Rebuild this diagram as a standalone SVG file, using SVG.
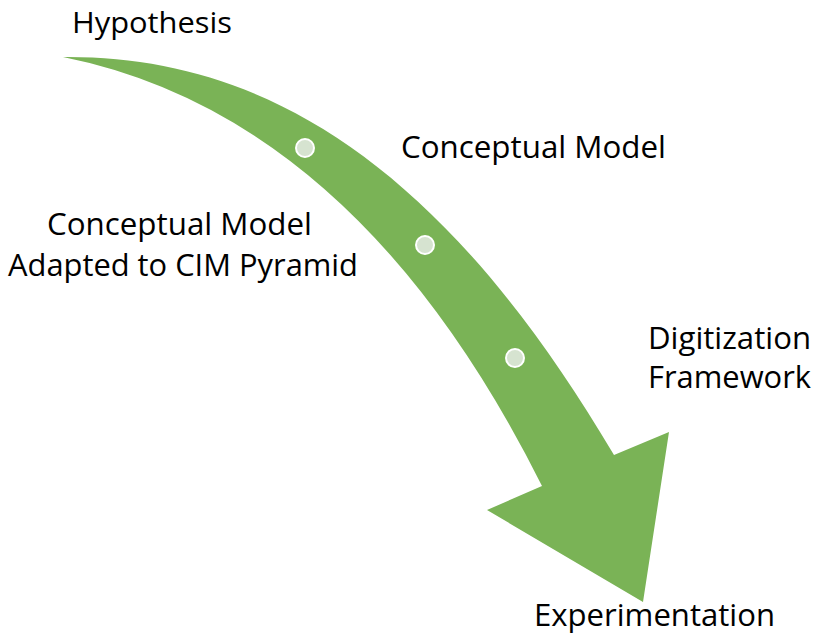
<svg xmlns="http://www.w3.org/2000/svg" width="816" height="635" viewBox="0 0 816 635">
<style>
.lbl{font-family:"Open Sans","Liberation Sans",sans-serif;font-size:31.5px;fill:#000}
.dot{fill:#d6e3d0;stroke:#fff;stroke-width:2}
</style>
<rect width="816" height="635" fill="#fff"/>
<g id="connectors">
<path id="arrow" fill="#7ab356" d="M63,57 C260,55 440,160 614,455 L669,432 L643,602 L487,510 L542,486 Q357,116 63,57 Z"/>
</g>
<g id="dot1"><circle class="dot" cx="305" cy="148" r="9"/></g>
<g id="dot2"><circle class="dot" cx="425" cy="245" r="9"/></g>
<g id="dot3"><circle class="dot" cx="515" cy="358" r="9"/></g>
<g id="n-hypothesis"><text class="lbl" x="72" y="33" style="font-size:30px" textLength="160" lengthAdjust="spacingAndGlyphs">Hypothesis</text></g>
<g id="n-conceptual"><text class="lbl" x="401" y="158" textLength="265" lengthAdjust="spacingAndGlyphs">Conceptual Model</text></g>
<g id="n-adapted">
<text class="lbl" x="47" y="235" textLength="265" lengthAdjust="spacingAndGlyphs">Conceptual Model</text>
<text class="lbl" x="8" y="276" textLength="350" lengthAdjust="spacingAndGlyphs">Adapted to CIM Pyramid</text>
</g>
<g id="n-digitization">
<text class="lbl" x="648" y="349" textLength="163" lengthAdjust="spacingAndGlyphs">Digitization</text>
<text class="lbl" x="648" y="388" textLength="163" lengthAdjust="spacingAndGlyphs">Framework</text>
</g>
<g id="n-experimentation"><text class="lbl" x="534" y="626" textLength="241" lengthAdjust="spacingAndGlyphs">Experimentation</text></g>
</svg>
